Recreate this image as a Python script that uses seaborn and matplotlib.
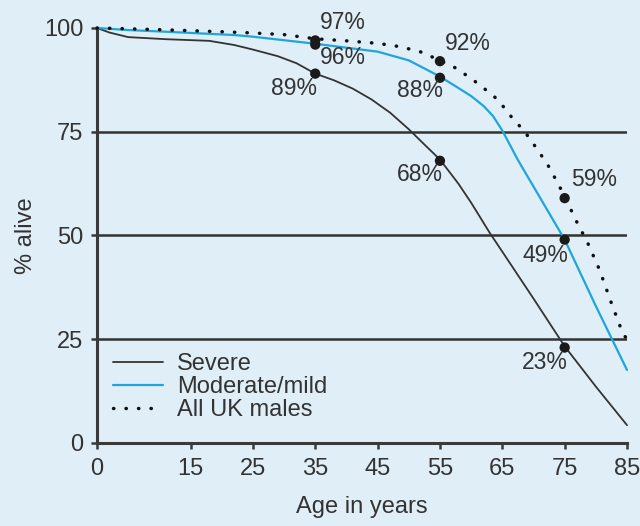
import matplotlib
matplotlib.use("Agg")
import matplotlib.pyplot as plt
import seaborn as sns

# ==========================================
# data
# ==========================================
age_severe = [0, 2, 5, 11, 18, 22, 25, 29, 32, 35, 38, 41, 44, 47, 50, 53, 55, 58, 60, 63,
              65, 70, 75, 80, 85]
severe = [100, 98.9, 97.8, 97.3, 96.9, 95.9, 94.8, 93.2, 91.5, 89, 87.4, 85.4, 82.8, 79.6,
          75.6, 71.2, 68.3, 62.4, 57.9, 50.6, 46.1, 34.8, 23.3, 13.6, 4.3]

age_moderate = [0, 5, 11, 22, 25, 35, 45, 50, 55, 58, 60, 62, 63.5, 65, 67.5, 70, 75, 80, 85]
moderate = [100, 99.5, 99.1, 98.3, 97.9, 96.2, 94.3, 92.2, 88.3, 85.5, 83.6, 81.2, 78.8,
            75.3, 68.2, 61.8, 49, 33, 17.6]

age_uk = [0, 10, 20, 25, 30, 35, 40, 45, 48.6, 51.8, 55, 57.6, 60.3, 62.7, 64.3, 66.5,
          68.6, 70.5, 72.3, 73.9, 75, 76.9, 78.7, 80.6, 82.5, 84.3, 85]
uk_males = [100, 99.6, 99.1, 98.8, 98.4, 97.4, 96.9, 96.3, 95.5, 94.3, 92.2, 90.3, 87.5,
            84.7, 82.7, 78.5, 75, 71, 67, 62.6, 59.4, 53.4, 48.2, 41.7, 33.7, 26.5, 25]

# labelled points
mark_age = [35, 35, 35, 55, 55, 55, 75, 75, 75]
mark_val = [97, 96, 89, 92, 88, 68, 59, 49, 23]

x_ticks = [0, 15, 25, 35, 45, 55, 65, 75, 85]
y_ticks = [0, 25, 50, 75, 100]
grid_lines = [25, 50, 75]

# ==========================================
# style
# ==========================================
bg = "#dfeef7"
ink = "#333333"
blue = "#1ea6dc"

sns.set_style("ticks", {"axes.facecolor": bg, "figure.facecolor": bg})
plt.rcParams["font.family"] = ["Liberation Sans", "DejaVu Sans"]
plt.rcParams["text.color"] = ink
plt.rcParams["axes.labelcolor"] = ink

fig = plt.figure(figsize=(6.4, 5.26), dpi=100, facecolor=bg)
ax = fig.add_axes([0.1516, 0.1578, 0.8281, 0.789])
ax.set_facecolor(bg)

for y in grid_lines:
    ax.axhline(y, color=ink, lw=1.8, zorder=1)

sns.lineplot(x=age_severe, y=severe, ax=ax, color=ink, lw=1.3, label="Severe",
             clip_on=False, zorder=3)
sns.lineplot(x=age_moderate, y=moderate, ax=ax, color=blue, lw=1.6, label="Moderate/mild",
             clip_on=False, zorder=3)
sns.lineplot(x=age_uk, y=uk_males, ax=ax, color="#111111", lw=2.5,
             linestyle=(0, (0.1, 3.5)), dash_capstyle="round",
             label="All UK males", clip_on=False, zorder=3)

sns.scatterplot(x=mark_age, y=mark_val, ax=ax, color="#1a1a1a", s=55,
                edgecolor="none", zorder=5, legend=False, clip_on=False)

# label offsets in points (dx, dy)
offsets = [(20, 13), (20, -9), (-15, -10.5), (20, 13), (-14.5, -9.5),
           (-14.5, -10), (21.5, 13.5), (-14, -11.5), (-14, -11)]
for a, v, (dx, dy) in zip(mark_age, mark_val, offsets):
    ax.annotate(f"{v}%", (a, v), xytext=(dx, dy), textcoords="offset points",
                ha="center", va="center", fontsize=16.5, color=ink, zorder=6)

ax.set_xlim(0, 85)
ax.set_ylim(0, 100)
ax.set_xticks(x_ticks)
ax.set_yticks(y_ticks)
ax.set_xlabel("Age in years", fontsize=17, labelpad=11)
ax.set_ylabel("% alive", fontsize=17, labelpad=5)

sns.despine(ax=ax)
for side in ["left", "bottom"]:
    ax.spines[side].set_linewidth(2.2)
    ax.spines[side].set_color("#3a3a3a")
ax.tick_params(axis="both", direction="out", length=4, width=1.8, color="#3a3a3a",
               labelsize=17, labelcolor=ink)
ax.tick_params(axis="x", pad=7)
ax.tick_params(axis="y", pad=6)

ax.legend(loc="center left", bbox_to_anchor=(0.03, 0.135), frameon=False, fontsize=17,
          handlelength=2.1, handletextpad=0.6, labelspacing=0.05,
          borderpad=0, borderaxespad=0)

plt.savefig("out.png", dpi=100, facecolor=bg)
